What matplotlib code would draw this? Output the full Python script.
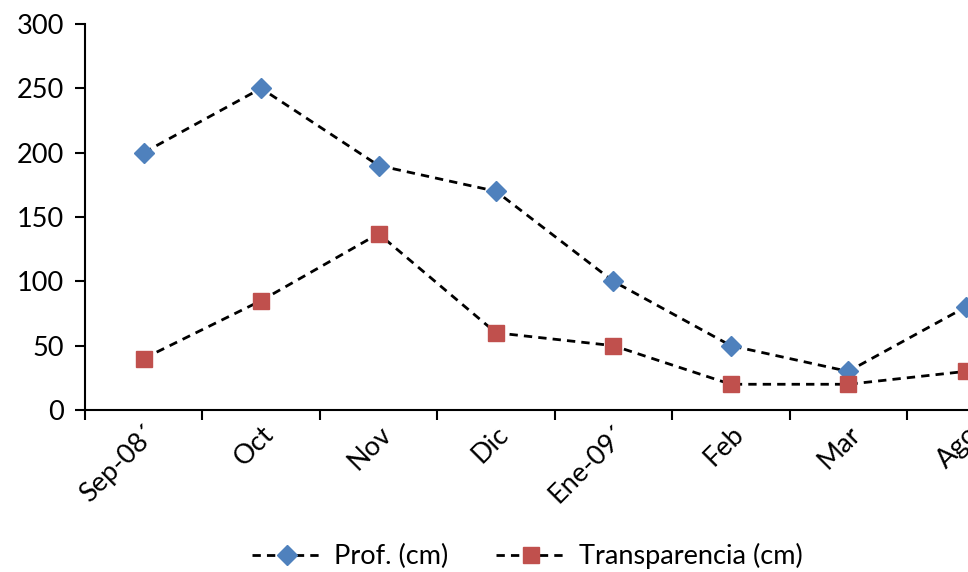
#!/usr/bin/env python3
"""Profundidad y transparencia mensual (cm)."""

import matplotlib
matplotlib.use("Agg")
import matplotlib.pyplot as plt

months = ["Sep-08´", "Oct", "Nov", "Dic", "Ene-09´", "Feb", "Mar", "Ago"]
prof = [200, 250, 190, 170, 100, 50, 30, 80]
transp = [40, 85, 137, 60, 50, 20, 20, 30]

plt.rcParams["font.family"] = ["Lato", "DejaVu Sans"]
plt.rcParams["font.size"] = 19.5

fig = plt.figure(figsize=(9.68, 5.72), dpi=100)
ax = fig.add_axes([85 / 968, 1 - 410 / 572, 1 - 85 / 968, (410 - 24) / 572])

x = list(range(len(months)))
dash = (0, (3.0, 2.2))
ax.plot(x, prof, color="black", lw=2.0, linestyle=dash, marker="D",
        markersize=10, markerfacecolor="#4F81BD", markeredgecolor="#4F81BD",
        label="Prof. (cm)", zorder=3)
ax.plot(x, transp, color="black", lw=2.0, linestyle=dash, marker="s",
        markersize=11, markerfacecolor="#C0504D", markeredgecolor="#C0504D",
        label="Transparencia (cm)", zorder=3)

ax.set_ylim(0, 300)
ax.set_yticks([0, 50, 100, 150, 200, 250, 300])
ax.set_xlim(-0.5, 7.02)

# category boundaries carry the tick marks, labels sit at the centres
ax.set_xticks([i - 0.5 for i in range(len(months))])
ax.set_xticklabels([])
ax.set_xticks(x, minor=True)
ax.set_xticklabels(months, minor=True)
ax.tick_params(axis="x", which="minor", length=0, pad=8)
ax.tick_params(axis="x", which="major", length=7, width=1.5, direction="out")
ax.tick_params(axis="y", length=7, width=1.5, direction="out", pad=8)
for lbl in ax.get_xticklabels(minor=True):
    lbl.set_rotation(45)
    lbl.set_ha("right")
    lbl.set_rotation_mode("anchor")

for side in ("top", "right"):
    ax.spines[side].set_visible(False)
for side in ("left", "bottom"):
    ax.spines[side].set_linewidth(1.5)

fig.legend(loc="center", bbox_to_anchor=(527 / 968, 1 - 556 / 572), ncol=2,
           frameon=False, handlelength=2.6, columnspacing=1.75,
           handletextpad=0.45)

fig.savefig("out.png", dpi=100)
